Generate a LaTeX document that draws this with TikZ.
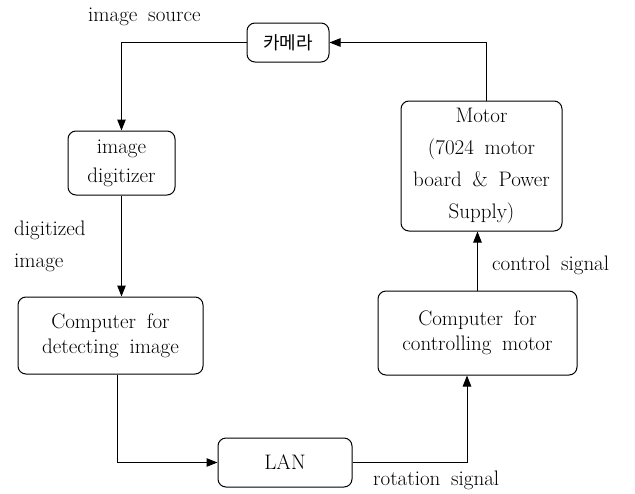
\documentclass[tikz,border=0pt]{standalone}
\usepackage{fontspec}
\setmainfont{Latin Modern Roman}[WordSpace=1.7]
\newfontfamily\krfont{Noto Sans CJK KR}
\usetikzlibrary{arrows.meta}
\tikzset{
  blk/.style={draw, line width=1pt, rounded corners=8pt, align=center, inner sep=0pt,
    font=\fontsize{21}{25}\selectfont},
  lbl/.style={inner sep=0pt, font=\fontsize{21}{25}\selectfont},
  conn/.style={line width=1pt, -{Triangle[length=11pt,width=8.5pt]}},
}
\begin{document}
\begin{tikzpicture}[x=1pt,y=-1pt]
\useasboundingbox (0,0) rectangle (635,493);
\node[blk, minimum width=82pt, minimum height=39pt] (cam) at (288,42.5) {\krfont\fontsize{18}{22}\selectfont 카메라};
\node[blk, minimum width=107pt, minimum height=64pt] (dig) at (121.5,163) {image\\[4pt]digitizer};
\node[blk, minimum width=185pt, minimum height=77pt] (det) at (110.5,335.5) {Computer for\\detecting image};
\node[blk, minimum width=134pt, minimum height=49pt] (lan) at (285,462.5) {LAN};
\node[blk, minimum width=199pt, minimum height=84pt] (ctl) at (477.5,333) {Computer for\\controlling motor};
\node[blk, minimum width=161pt, minimum height=130pt] (mot) at (481.5,166) {Motor\\[7pt](7024 motor\\[7pt]board \& Power\\[7pt]Supply)};

\node[lbl, anchor=west] (lsrc) at (88,17) {image source};
\node[lbl, anchor=west] (ldig) at (14,230) {digitized};
\node[lbl, anchor=west] (limg) at (14,263) {image};
\node[lbl, anchor=west] (lctl) at (492,265) {control signal};
\node[lbl, anchor=west] (lrot) at (373,480) {rotation signal};

\draw[conn] (cam.west) -| (dig.north);
\draw[conn] (dig.south) -- (dig.south |- det.north);
\draw[conn] ([xshift=6.5pt]det.south) |- (lan.west);
\draw[conn] (lan.east) -| ([xshift=-10.5pt]ctl.south);
\draw[conn] (ctl.north) -- (ctl.north |- mot.south);
\draw[conn] ([xshift=4.5pt]mot.north) |- (cam.east);
\end{tikzpicture}
\end{document}
